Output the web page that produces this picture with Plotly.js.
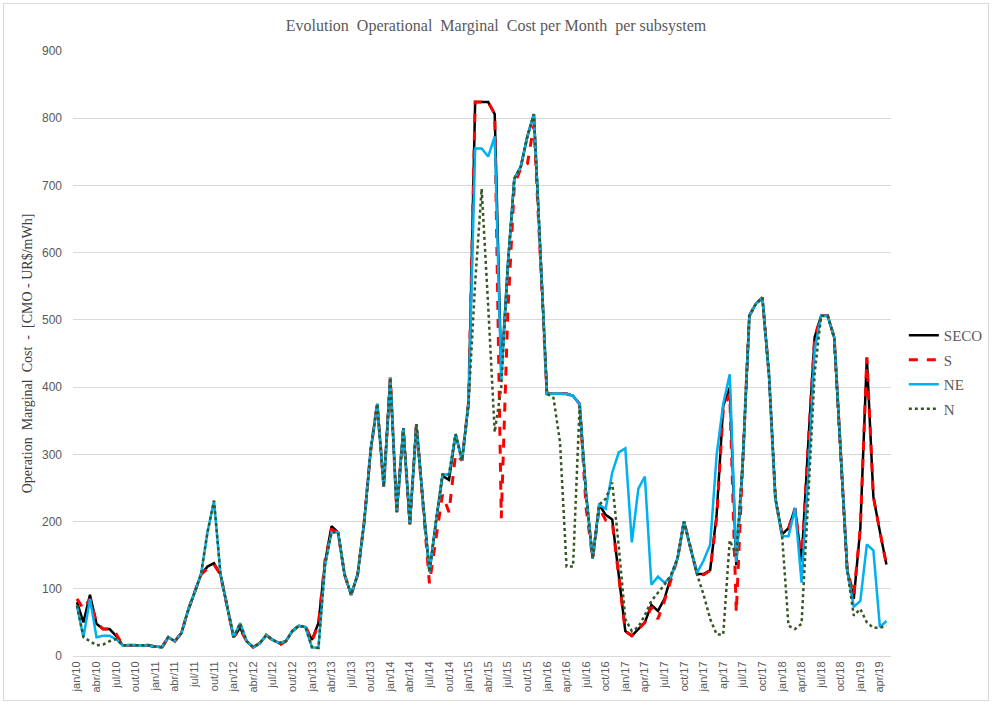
<!DOCTYPE html>
<html>
<head>
<meta charset="utf-8">
<script src="https://cdn.plot.ly/plotly-3.0.1.min.js"></script>
<style>
html,body{margin:0;padding:0;background:#fff;}
#wrap{position:relative;width:992px;height:705px;}
#chart{width:992px;height:705px;}
#frame{position:absolute;left:3px;top:3px;width:984px;height:696px;border:1px solid #d9d9d9;pointer-events:none;}
</style>
</head>
<body>
<div id="wrap"><div id="chart"></div><div id="frame"></div></div>
<script>
// Tick labels shown every 3 months (as printed on the original chart)
const tickLabels = ["jan/10","abr/10","jul/10","out/10","jan/11","abr/11","jul/11","out/11",
  "jan/12","abr/12","jul/12","out/12","jan/13","abr/13","jul/13","out/13",
  "jan/14","abr/14","jul/14","out/14","jan/15","abr/15","jul/15","out/15",
  "jan/16","apr/16","jul/16","oct/16","jan/17","apr/17","jul/17","oct/17",
  "jan/17","ap/17","jul/17","oct/17","jan/18","apr/18","jul/18","oct/18",
  "jan/19","apr/19"];

const seco = [80,50,91,48,40,40,30,16,16,16,16,16,14,13,28,22,34,67,94,121,
  133,138,121,75,28,42,22,13,19,31,24,19,22,37,45,43,24,49,139,193,
  184,121,91,121,199,306,375,252,414,214,339,196,345,230,125,200,268,262,330,291,
  378,824,824,824,806,420,580,710,728,773,806,600,390,390,390,390,387,375,240,145,
  225,210,203,121,37,30,40,50,76,67,85,118,145,200,160,122,122,128,211,372,
  399,135,290,506,524,533,420,234,181,190,220,140,312,474,506,506,474,300,127,85,
  190,444,237,185,136];

const s = [85,70,85,50,40,40,33,16,16,16,16,16,13,12,28,22,34,67,94,121,
  130,136,121,75,28,40,22,13,19,31,24,16,22,37,45,45,22,47,142,188,
  184,121,91,121,199,306,375,252,414,214,339,196,345,230,108,175,240,214,300,291,
  378,824,824,824,806,205,510,700,726,732,790,600,390,390,390,390,387,375,220,145,
  220,202,199,115,37,30,40,50,73,55,82,115,145,200,160,122,121,127,205,366,
  390,65,290,506,524,533,420,234,181,190,220,140,312,474,506,506,474,300,127,91,
  190,444,237,185,136];

const ne = [75,28,85,28,30,30,25,16,16,16,16,16,14,13,28,22,34,67,94,121,
  184,231,121,75,28,49,22,13,19,31,24,19,22,37,45,43,13,12,135,184,
  184,121,91,121,199,306,375,252,414,214,339,196,345,230,125,200,270,270,330,291,
  378,755,755,743,773,410,580,710,728,773,806,600,390,390,390,390,387,375,240,145,
  225,219,273,303,309,169,249,267,106,118,109,118,145,200,160,124,142,166,300,375,
  419,140,290,506,524,533,420,234,178,178,220,109,264,455,506,506,474,300,127,73,
  82,166,157,43,52];

const n = [75,28,22,16,17,22,25,16,16,16,16,16,14,13,28,22,34,67,94,121,
  184,231,121,75,28,49,22,13,19,31,24,19,22,37,45,43,13,12,135,184,
  184,121,91,121,199,306,375,252,414,214,339,196,345,230,125,200,270,270,330,291,
  378,555,695,520,333,400,580,710,728,773,806,600,390,384,318,133,133,372,240,145,
  225,234,258,163,55,37,43,61,82,94,106,121,145,200,160,121,91,55,32,32,
  172,150,290,506,524,533,420,234,181,45,40,48,230,420,506,506,474,300,127,60,
  70,50,42,42,45];

const idx = seco.map((_, i) => i);
const tickVals = tickLabels.map((_, k) => k * 3);

const serif = "Liberation Serif, Times New Roman, serif";
const sans = "Liberation Sans, Arial, sans-serif";

const traces = [
  {x: idx, y: seco, name: "SECO", legendgroup: "g1", type: "scatter", mode: "lines",
   line: {color: "#000000", width: 2.5}},
  {x: idx, y: s, name: "S", legendgroup: "g2", type: "scatter", mode: "lines",
   line: {color: "#ff0000", width: 3, dash: "dash"}},
  {x: idx, y: ne, name: "NE", legendgroup: "g3", type: "scatter", mode: "lines",
   line: {color: "#00b0f0", width: 2.5}},
  {x: idx, y: n, name: "N", legendgroup: "g4", type: "scatter", mode: "lines",
   line: {color: "#375623", width: 2.5, dash: "dot"}}
];

const layout = {
  width: 992, height: 705,
  margin: {l: 73, r: 101, t: 51, b: 49, autoexpand: false},
  paper_bgcolor: "#ffffff", plot_bgcolor: "#ffffff",
  title: {text: "Evolution  Operational  Marginal  Cost per Month  per subsystem",
    font: {family: serif, size: 16, color: "#595959"},
    x: 0.5, xref: "container", y: 1 - 25/705, yref: "container", yanchor: "middle"},
  xaxis: {
    range: [-0.6, 124.7], tickmode: "array", tickvals: tickVals, ticktext: tickLabels,
    tickangle: -90, tickfont: {family: sans, size: 11, color: "#595959"},
    showgrid: false, zeroline: false, showline: true, linecolor: "#d9d9d9", linewidth: 1,
    ticks: "", fixedrange: true
  },
  yaxis: {
    range: [0, 900], dtick: 100, tick0: 0,
    tickfont: {family: sans, size: 12, color: "#595959"},
    gridcolor: "#d9d9d9", gridwidth: 1, zeroline: false, showline: false,
    ticks: "", ticklabelstandoff: 10,
    title: {text: "Operation  Marginal  Cost  -  [CMO - UR$/mWh]",
      font: {family: serif, size: 14, color: "#404040"}, standoff: 6}
  },
  legend: {x: 1.0157, xanchor: "left", y: 0.557, yanchor: "top",
    font: {family: serif, size: 15, color: "#595959"},
    bgcolor: "rgba(0,0,0,0)", itemwidth: 30, traceorder: "grouped", tracegroupgap: 2},
  showlegend: true
};

Plotly.newPlot("chart", traces, layout, {displayModeBar: false, staticPlot: true});
</script>
</body>
</html>
